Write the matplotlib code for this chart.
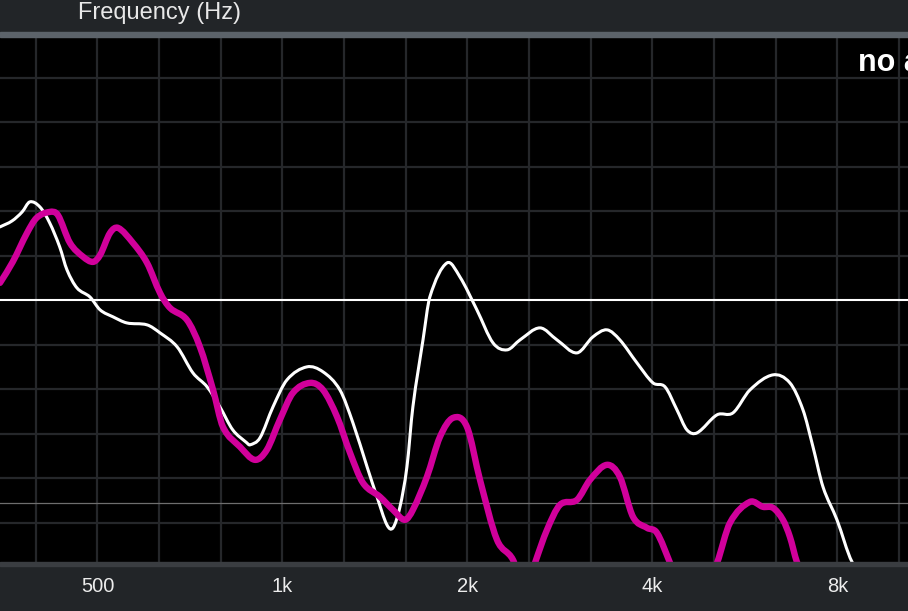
import matplotlib
matplotlib.use("Agg")
import matplotlib.pyplot as plt
from matplotlib.patches import Rectangle, PathPatch
from matplotlib.path import Path
import numpy as np

plt.rcParams['font.family'] = ['Liberation Sans', 'DejaVu Sans']

# --- data (Hz, dB) ---
white_freq = [347, 363, 377, 388, 403, 418, 434, 446, 463, 486, 505, 530, 558, 602, 632,
              674, 715, 754, 791, 830, 875, 885, 919, 965, 1017, 1096, 1164, 1240,
              1302, 1373, 1425, 1479, 1513, 1553, 1594, 1630, 1693, 1737, 1852, 1944,
              2072, 2201, 2320, 2435, 2624, 2797, 3014, 3200, 3373, 3540, 3774, 4008,
              4193, 4384, 4551, 4726, 5095, 5408, 5764, 6282, 6694, 7030, 7299, 7578,
              7985, 8447, 9380]
white_db = [8.26, 8.93, 9.94, 11.07, 10.5, 8.71, 6.01, 3.43, 1.40, 0.39, -1.07, -1.85,
            -2.53, -2.75, -3.65, -5.23, -8.15, -9.72, -11.97, -14.55, -16.01, -16.24,
            -15.45, -11.97, -8.93, -7.47, -8.03, -10.06, -13.76, -18.71, -22.08, -25.23,
            -25.56, -23.20, -18.71, -11.97, -4.44, 0.39, 4.21, 2.64, -1.07, -4.78, -5.56,
            -4.44, -3.09, -4.44, -5.90, -4.10, -3.31, -4.44, -7.02, -9.27, -9.72, -12.30,
            -14.55, -14.89, -12.86, -12.64, -10.06, -8.37, -9.27, -12.30, -16.46,
            -20.96, -24.66, -29.38, -34.0]

pink_freq = [347, 364, 384, 398, 418, 431, 451, 474, 492, 505, 524, 540, 571, 602, 632,
             656, 699, 734, 771, 800, 853, 902, 943, 990, 1040, 1109, 1164, 1227, 1288,
             1352, 1441, 1513, 1582, 1630, 1718, 1804, 1895, 1996, 2096, 2234, 2372,
             2481, 2576, 2694, 2828, 3014, 3165, 3373, 3540, 3719, 3918, 4067, 4272,
             4656, 5095, 5348, 5764, 6051, 6282, 6521, 6694, 6871, 7215]
pink_db = [1.97, 4.33, 7.58, 9.27, 9.94, 9.6, 6.46, 4.89, 4.33, 5.11, 7.58, 8.15, 6.46,
           4.21, 0.84, -0.84, -2.19, -5.23, -10.06, -14.21, -16.46, -17.92, -16.80,
           -13.43, -10.39, -9.27, -10.06, -13.09, -17.13, -20.51, -22.08, -23.54,
           -24.66, -23.54, -19.83, -15.34, -13.20, -14.21, -20.17, -26.91, -29.16, -33.0,
           -29.50, -25.79, -22.98, -22.42, -20.17, -18.48, -19.83, -24.33, -25.56,
           -26.12, -29.50, -36.0, -29.50, -25.00, -22.64, -23.20, -23.31, -24.66,
           -26.57, -29.38, -33.0]

tick_freqs = [500, 1000, 2000, 4000, 8000]
tick_labels = ['500', '1k', '2k', '4k', '8k']
grid_freqs = [500 * 2 ** (k / 3) for k in range(-1, 14)]
grid_db = [-25, -20, -15, -10, -5, 5, 10, 15, 20, 25]
threshold_db = -22.75

BAND = '#222528'


def smooth_path(freq, db):
    # cubic bezier through the read points (drawn in log-frequency space)
    x = np.log10(freq)
    y = np.asarray(db, dtype=float)
    n = len(x)
    m = np.zeros(n)
    m[0] = (y[1] - y[0]) / (x[1] - x[0])
    m[-1] = (y[-1] - y[-2]) / (x[-1] - x[-2])
    m[1:-1] = (y[2:] - y[:-2]) / (x[2:] - x[:-2])
    verts = [(freq[0], y[0])]
    codes = [Path.MOVETO]
    for i in range(n - 1):
        h = x[i + 1] - x[i]
        c1 = (10 ** (x[i] + h / 3), y[i] + m[i] * h / 3)
        c2 = (10 ** (x[i + 1] - h / 3), y[i + 1] - m[i + 1] * h / 3)
        verts += [c1, c2, (freq[i + 1], y[i + 1])]
        codes += [Path.CURVE4] * 3
    return Path(verts, codes)


fig = plt.figure(figsize=(9.08, 6.11), dpi=100, facecolor=BAND)
ax = fig.add_axes([0, 1 - 562 / 611, 1, 525 / 611])
ax.set_facecolor('black')

# top strip and bottom strip
fig.add_artist(Rectangle((0, 1 - 37 / 611), 1, 5 / 611, transform=fig.transFigure,
                         color='#5c636a', zorder=5))
fig.add_artist(Rectangle((0, 1 - 566 / 611), 1, 4 / 611, transform=fig.transFigure,
                         color='#3a3d41', zorder=5))

ax.set_xscale('log')
ax.set_xlim(347, 10420)
ax.set_ylim(-29.4, 29.6)

for f in grid_freqs:
    ax.axvline(f, color='#25272a', lw=1.6, zorder=1)
for d in grid_db:
    ax.axhline(d, color='#25272a', lw=1.6, zorder=1)
ax.axhline(threshold_db, color='#6e6e6e', lw=0.9, zorder=1)
ax.axhline(0, color='white', lw=1.5, zorder=2)

ax.add_patch(PathPatch(smooth_path(white_freq, white_db), fill=False,
                       edgecolor='white', lw=2.2, zorder=3, capstyle='round',
                       joinstyle='round'))
ax.add_patch(PathPatch(smooth_path(pink_freq, pink_db), fill=False,
                       edgecolor='#d1009b', lw=4.6, zorder=4, capstyle='round',
                       joinstyle='round'))

ax.xaxis.set_minor_locator(plt.NullLocator())
ax.set_xticks(tick_freqs)
ax.set_xticklabels(tick_labels)
ax.tick_params(axis='x', length=0, pad=11, labelsize=14.5, labelcolor='#ececec')
ax.set_yticks([])
for s in ax.spines.values():
    s.set_visible(False)

fig.text(78 / 908, 1 - 19 / 611, 'Frequency (Hz)', color='#e8e8e8', fontsize=17,
         va='baseline', ha='left')
# the status text runs past the right edge, as in the reference
ax.text(858 / 908, 1 - (71 - 37) / 525, 'no audio', transform=ax.transAxes,
        color='white', fontsize=22, fontweight='bold', va='baseline', ha='left',
        zorder=6)

fig.savefig('out.png', dpi=100, facecolor=BAND)
